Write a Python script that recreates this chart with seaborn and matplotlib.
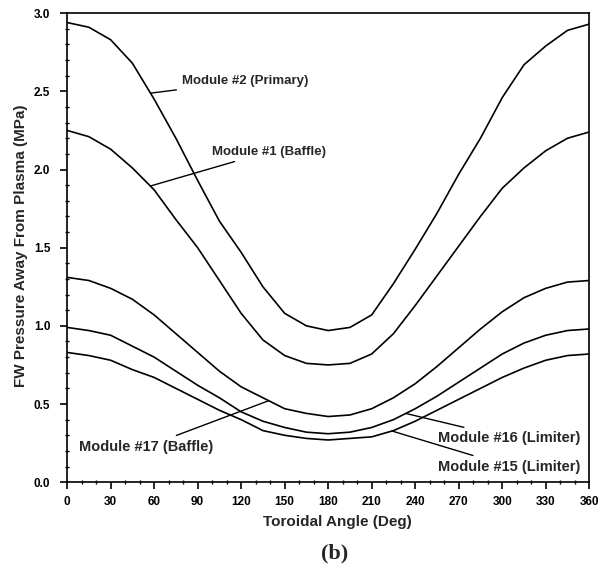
import numpy as np
import pandas as pd
import matplotlib
matplotlib.use("Agg")
import matplotlib.pyplot as plt
from matplotlib.ticker import MultipleLocator
import seaborn as sns

# Toroidal angle (deg) and first-wall pressure away from plasma (MPa) per module
angle = [0, 15, 30, 45, 60, 75, 90, 105, 120, 135, 150, 165, 180,
         195, 210, 225, 240, 255, 270, 285, 300, 315, 330, 345, 360]
module_2 = [2.94, 2.91, 2.83, 2.68, 2.45, 2.20, 1.93, 1.67, 1.47, 1.25, 1.08, 1.00, 0.97,
            0.99, 1.07, 1.27, 1.49, 1.72, 1.97, 2.20, 2.46, 2.67, 2.79, 2.89, 2.93]
module_1 = [2.25, 2.21, 2.13, 2.01, 1.87, 1.68, 1.50, 1.29, 1.08, 0.91, 0.81, 0.76, 0.75,
            0.76, 0.82, 0.95, 1.13, 1.32, 1.51, 1.70, 1.88, 2.01, 2.12, 2.20, 2.24]
module_17 = [1.31, 1.29, 1.24, 1.17, 1.07, 0.95, 0.83, 0.71, 0.61, 0.54, 0.47, 0.44, 0.42,
             0.43, 0.47, 0.54, 0.63, 0.74, 0.86, 0.98, 1.09, 1.18, 1.24, 1.28, 1.29]
module_16 = [0.99, 0.97, 0.94, 0.87, 0.80, 0.71, 0.62, 0.54, 0.45, 0.39, 0.35, 0.32, 0.31,
             0.32, 0.35, 0.40, 0.47, 0.55, 0.64, 0.73, 0.82, 0.89, 0.94, 0.97, 0.98]
module_15 = [0.83, 0.81, 0.78, 0.72, 0.67, 0.60, 0.53, 0.46, 0.40, 0.33, 0.30, 0.28, 0.27,
             0.28, 0.29, 0.33, 0.39, 0.46, 0.53, 0.60, 0.67, 0.73, 0.78, 0.81, 0.82]

series_names = ["Module #2 (Primary)", "Module #1 (Baffle)", "Module #17 (Baffle)",
                "Module #16 (Limiter)", "Module #15 (Limiter)"]
series_values = [module_2, module_1, module_17, module_16, module_15]

x_ticks = [0, 30, 60, 90, 120, 150, 180, 210, 240, 270, 300, 330, 360]
y_ticks = [0.0, 0.5, 1.0, 1.5, 2.0, 2.5, 3.0]

df = pd.concat(
    [pd.DataFrame({"angle": angle, "pressure": vals, "module": name})
     for name, vals in zip(series_names, series_values)],
    ignore_index=True,
)

sns.set_style("ticks")
plt.rcParams["font.family"] = ["Liberation Sans", "DejaVu Sans"]
plt.rcParams["font.weight"] = "bold"

fig = plt.figure(figsize=(6.10, 5.72), dpi=100)
ax = fig.add_axes([0.110, 0.157, 0.856, 0.820])

sns.lineplot(data=df, x="angle", y="pressure", units="module", estimator=None,
             color="black", linewidth=1.2, ax=ax, legend=False, sort=False)

ax.set_xlim(0, 360)
ax.set_ylim(0, 3.0)
ax.set_xticks(x_ticks)
ax.set_yticks(y_ticks)
ax.set_xticklabels([str(t) for t in x_ticks])
ax.set_yticklabels([f"{t:.1f}" for t in y_ticks])
ax.xaxis.set_minor_locator(MultipleLocator(10))
ax.yaxis.set_minor_locator(MultipleLocator(0.1))
ax.tick_params(which="major", direction="out", length=5, width=1.2,
               labelsize=8.5, colors="black")
ax.tick_params(axis="x", which="major", pad=5)
ax.tick_params(axis="y", which="major", pad=7)
ax.tick_params(which="minor", direction="inout", length=3, width=1.0, colors="black")
for lab in ax.get_xticklabels() + ax.get_yticklabels():
    lab.set_fontweight("bold")
for side in ["top", "right", "bottom", "left"]:
    ax.spines[side].set_visible(True)
    ax.spines[side].set_linewidth(1.2)
    ax.spines[side].set_color("black")

ax.set_xlabel("Toroidal Angle (Deg)", fontsize=11, fontweight="bold")
ax.set_ylabel("FW Pressure Away From Plasma (MPa)", fontsize=11, fontweight="bold")
ax.xaxis.set_label_coords(0.517, -0.071)
ax.yaxis.set_label_coords(-0.075, 0.505)


def on_curve(vals, deg):
    return float(np.interp(deg, angle, vals))


# Leader-line annotations: (series index, angle on curve, text position, alignment, size)
notes = [
    (0, 57.5, (79.5, 2.565), "left", 9.5),
    (1, 57.4, (100.0, 2.115), "left", 9.5),
    (2, 139.0, (101.0, 0.227), "right", 10.5),
    (3, 233.5, (256.0, 0.281), "left", 10.5),
    (4, 224.0, (256.0, 0.100), "left", 10.5),
]
for idx, deg, txt_xy, ha, size in notes:
    ax.annotate(series_names[idx],
                xy=(deg, on_curve(series_values[idx], deg)),
                xytext=txt_xy, textcoords="data",
                ha=ha, va="center", fontsize=size, fontweight="bold",
                arrowprops=dict(arrowstyle="-", color="black", lw=1.0,
                                shrinkA=2, shrinkB=0))

fig.text(0.548, 0.032, "(b)", ha="center", va="center", fontsize=16,
         fontweight="bold", family=["Liberation Serif", "DejaVu Serif"])

fig.savefig("out.png", dpi=100)
